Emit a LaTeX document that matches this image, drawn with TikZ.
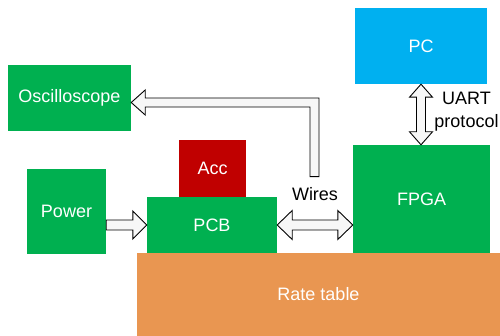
\documentclass[tikz,border=0pt]{standalone}
\usepackage{fontspec}
\setmainfont{Liberation Sans}
\usetikzlibrary{calc}
\definecolor{boxgreen}{HTML}{00B050}
\definecolor{boxred}{HTML}{C00000}
\definecolor{boxblue}{HTML}{00B0F0}
\definecolor{tableorange}{HTML}{E99651}
\begin{document}
\begin{tikzpicture}[x=1pt,y=-1pt,
  box/.style={inner sep=0pt, text=white, font=\fontsize{18}{23}\selectfont},
  lbl/.style={inner sep=0pt, text=black, font=\fontsize{18}{23}\selectfont, align=center},
  blk/.style={draw=black, line width=0.9pt, fill=gray!6, line join=miter}]
\useasboundingbox (0,0) rectangle (500,336);

% blocks
\node[box, fill=tableorange, minimum width=363pt, minimum height=83pt] (rate) at (318.5,294.5) {Rate table};
\node[box, fill=boxgreen, minimum width=123pt, minimum height=66pt] (osc) at (69.5,98) {Oscilloscope};
\node[box, fill=boxblue, minimum width=132pt, minimum height=76pt] (pc) at (421,46) {PC};
\node[box, fill=boxred, minimum width=67pt, minimum height=57pt] (acc) at (212.5,168.5) {Acc};
\node[box, fill=boxgreen, minimum width=79pt, minimum height=85pt] (power) at (66.5,211.5) {Power};
\node[box, fill=boxgreen, minimum width=130pt, minimum height=56pt] (pcb) at (212,225) {PCB};
\node[box, fill=boxgreen, minimum width=137pt, minimum height=108pt] (fpga) at (421.5,199) {FPGA};

% labels
\node[lbl] (wires) at (315,194) {Wires};
\node[lbl] (uart) at (466.5,111.5) {UART\\protocol};

% Power -> PCB
\coordinate (pa) at (power.east |- pcb.west);
\draw[blk] ($(pa)+(0,-5)$) -- ($(pcb.west)+(-14,-5)$) -- ($(pcb.west)+(-14,-14)$)
  -- (pcb.west) -- ($(pcb.west)+(-14,14)$) -- ($(pcb.west)+(-14,5)$)
  -- ($(pa)+(0,5)$) -- cycle;

% PCB <-> FPGA
\coordinate (wa) at (pcb.east);
\coordinate (wb) at (fpga.west |- pcb.east);
\draw[blk] (wa) -- ($(wa)+(15,-14.5)$) -- ($(wa)+(15,-5)$) -- ($(wb)+(-15,-5)$)
  -- ($(wb)+(-15,-14.5)$) -- (wb) -- ($(wb)+(-15,14.5)$) -- ($(wb)+(-15,5)$)
  -- ($(wa)+(15,5)$) -- ($(wa)+(15,14.5)$) -- cycle;

% PC <-> FPGA
\coordinate (ua) at (pc.south);
\coordinate (ub) at (pc.south |- fpga.north);
\draw[blk] (ua) -- ($(ua)+(11.5,13)$) -- ($(ua)+(4.5,13)$) -- ($(ub)+(4.5,-13)$)
  -- ($(ub)+(11.5,-13)$) -- (ub) -- ($(ub)+(-11.5,-13)$) -- ($(ub)+(-4.5,-13)$)
  -- ($(ua)+(-4.5,13)$) -- ($(ua)+(-11.5,13)$) -- cycle;

% wires -> Oscilloscope
\coordinate (ot) at ($(osc.east)+(0,4.5)$);
\coordinate (vb) at ($(wires.north)+(-0.5,-10.5)$);
\coordinate (oc) at (vb |- ot);
\draw[blk] ($(vb)+(-4.5,0)$) -- ($(vb)+(4.5,0)$) -- ($(oc)+(4.5,-4.5)$)
  -- ($(ot)+(14,-4.5)$) -- ($(ot)+(14,-12.5)$) -- (ot) -- ($(ot)+(14,12.5)$)
  -- ($(ot)+(14,4.5)$) -- ($(oc)+(-4.5,4.5)$) -- cycle;
\end{tikzpicture}
\end{document}
